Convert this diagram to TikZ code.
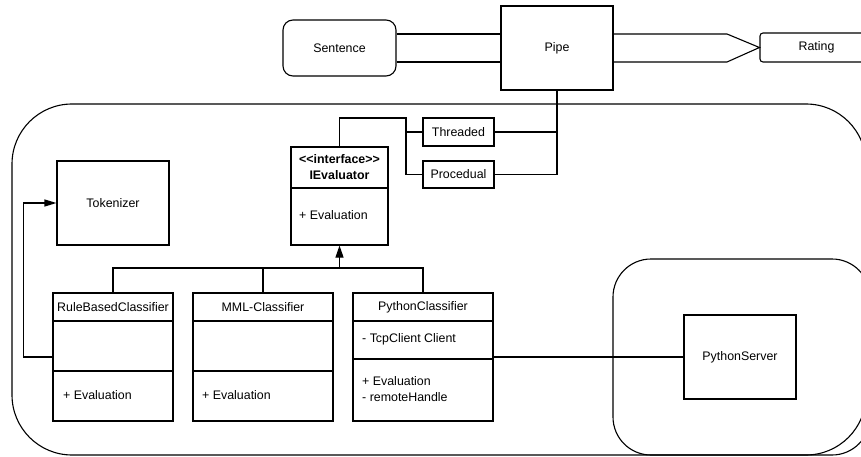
\documentclass[tikz,border=0pt]{standalone}
\usepackage{fontspec}
\setmainfont{Liberation Sans}
\usetikzlibrary{arrows.meta,calc}

\tikzset{
    box/.style={draw,line width=1.1pt,inner sep=0pt},
    container/.style={draw,line width=1.1pt,inner sep=0pt},
    member/.style={anchor=west,inner sep=0pt,align=left},
    wire/.style={line width=1.1pt},
    every node/.style={font=\fontsize{12.4}{16}\selectfont}
}

\begin{document}
\begin{tikzpicture}[x=1pt,y=-1pt]
    \useasboundingbox (0,0) rectangle (861,457);
    \clip (0,0) rectangle (861,457);

    % containers
    \node [container,rounded corners=60pt,minimum width=854pt,minimum height=351pt] (core) at (439,279.5) {};
    \node [container,rounded corners=38pt,minimum width=257pt,minimum height=196pt] (server) at (741.5,357) {};

    % top row
    \node [box,rounded corners=10pt,minimum width=113pt,minimum height=56pt] (sentence) at (339.5,48) {Sentence};
    \node [box,minimum width=112pt,minimum height=84pt] (pipe) at (557,48) {Pipe};
    \node [box,rounded corners=3pt,minimum width=113pt,minimum height=29pt] (rating) at (816.5,47.5) {Rating};

    \draw [wire] ($(sentence.east)+(0,-14)$) -- ($(pipe.west)+(0,-14)$);
    \draw [wire] ($(sentence.east)+(0,14)$) -- ($(pipe.west)+(0,14)$);
    \draw [wire] ($(pipe.east)+(0,-14)$) -- (727,34) -- (rating.west) -- (727,62) -- ($(pipe.east)+(0,14)$);

    % strategies
    \node [box,minimum width=71pt,minimum height=28pt] (threaded) at (458.5,132) {Threaded};
    \node [box,minimum width=71pt,minimum height=27pt] (procedual) at (458.5,174.5) {Procedual};

    \draw [wire] (pipe.south) |- (procedual.east);
    \draw [wire] (threaded.east) -- (threaded.east -| pipe.south);

    % interface
    \node [box,minimum width=97pt,minimum height=98pt] (ieval) at (339.5,196) {};
    \draw [wire] (ieval.west |- 0,188) -- (ieval.east |- 0,188);
    \node [inner sep=0pt,align=center] (ievaltitle) at (339.5,167) {\textbf{{<}{<}interface{>}{>}}\\\textbf{IEvaluator}};
    \node [member] (ievalop) at (299,215) {+ Evaluation};

    \coordinate (split) at (406,118);
    \draw [wire] (ieval.north) |- (split) |- (procedual.west);
    \draw [wire] (split |- threaded.west) -- (threaded.west);

    % tokenizer
    \node [box,minimum width=112pt,minimum height=84pt] (tokenizer) at (113,203) {Tokenizer};

    % classifiers
    \node [box,minimum width=120pt,minimum height=128pt] (rbc) at (113,357) {};
    \node [box,minimum width=140pt,minimum height=128pt] (mml) at (263,357) {};
    \node [box,minimum width=140pt,minimum height=128pt] (pyc) at (423,357) {};

    \draw [wire] (rbc.west |- 0,321) -- (rbc.east |- 0,321);
    \draw [wire] (rbc.west |- 0,371) -- (rbc.east |- 0,371);
    \draw [wire] (mml.west |- 0,321) -- (mml.east |- 0,321);
    \draw [wire] (mml.west |- 0,371) -- (mml.east |- 0,371);
    \draw [wire] (pyc.west |- 0,321) -- (pyc.east |- 0,321);
    \draw [wire] (pyc.west |- 0,359) -- (pyc.east |- 0,359);

    \node [inner sep=0pt] (rbctitle) at (113,307) {RuleBasedClassifier};
    \node [inner sep=0pt] (mmltitle) at (263,307) {MML-Classifier};
    \node [inner sep=0pt] (pyctitle) at (423,307) {PythonClassifier};

    \node [member] (rbcop) at (63,395) {+ Evaluation};
    \node [member] (mmlop) at (202,395) {+ Evaluation};
    \node [member] (pycattr) at (362,339) {- TcpClient Client};
    \node [member] (pycop) at (362,389) {+ Evaluation\\- remoteHandle};

    % inheritance
    \coordinate (bus) at (339.5,268);
    \draw [wire] (rbc.north) |- (pyc.north |- bus) -- (pyc.north);
    \draw [wire] (mml.north) -- (mml.north |- bus);
    \draw [wire,-{Triangle[length=12pt,width=8pt]}] (bus) -- (ieval.south);

    % usage
    \draw [wire,-{Triangle[length=12pt,width=7pt]}] (rbc.west) -- ++(-29,0) |- (tokenizer.west);

    % python server
    \node [box,minimum width=112pt,minimum height=84pt] (pyserver) at (740,357) {PythonServer};
    \draw [wire] (pyc.east) -- (pyserver.west);
\end{tikzpicture}
\end{document}
